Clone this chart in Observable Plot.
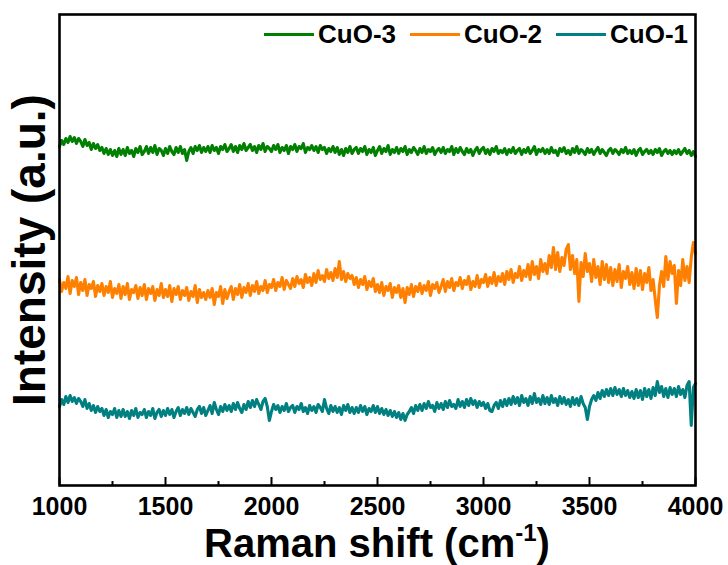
<!DOCTYPE html>
<html>
<head>
<meta charset="utf-8">
<script src="https://cdn.jsdelivr.net/npm/d3@7"></script>
<script src="https://cdn.jsdelivr.net/npm/@observablehq/plot@0.6"></script>
<style>
  html, body { margin: 0; padding: 0; background: #fff; }
  #wrap { position: relative; width: 728px; height: 565px; font-family: "Liberation Sans", Arial, sans-serif; }
  #legend { position: absolute; top: 21px; right: 40px; display: flex; align-items: center; font-weight: bold; font-size: 26px; line-height: 26px; color: #000; }
  #legend .sw { display: inline-block; width: 50px; height: 3px; margin-left: 14px; }
  #legend .sw.first { margin-left: 0; }
  #legend .lb { margin-left: 4px; }
  #xtitle { position: absolute; left: 59px; width: 636px; top: 523px; text-align: center; font-weight: bold; font-size: 40px; color: #000; line-height: 1; white-space: nowrap; }
  #xtitle sup { font-size: 24px; vertical-align: 16px; line-height: 0; }
</style>
</head>
<body>
<div id="wrap"></div>
<script>
// Raman shift sampling (cm^-1)
const shiftStart = 1000;
const shiftStep = 10;
const xTicks = [1000, 1500, 2000, 2500, 3000, 3500, 4000];
const xMinorTicks = [1250, 1750, 2250, 2750, 3250, 3750];
const seriesNames = ["CuO-3", "CuO-2", "CuO-1"];
const seriesColors = ["#008000", "#ff8000", "#008080"];

// Intensity (a.u.), offset-stacked
const cuo3 = [
  339,345,341,347,343,349,344,348,342,347,
  344,339,346,340,343,336,342,337,341,335,
  338,332,337,331,336,330,335,329,337,331,
  336,330,338,332,335,329,337,333,339,331,
  334,339,332,338,333,340,331,337,335,330,
  337,332,339,334,331,338,333,339,332,336,
  325,334,338,332,339,335,340,333,338,334,
  339,333,340,335,338,332,339,336,341,334,
  337,341,334,339,333,340,336,342,335,338,
  341,335,339,333,340,336,342,334,339,337,
  334,340,336,341,333,338,335,340,332,339,
  336,341,334,339,337,342,333,338,336,340,
  335,339,333,340,336,338,332,337,334,339,
  333,338,331,336,330,337,333,339,332,336,
  338,332,337,334,339,331,336,333,338,330,
  335,339,332,337,334,340,331,336,333,338,
  332,337,334,339,331,336,333,338,335,331,
  337,333,339,332,336,334,338,331,335,337,
  333,338,332,336,334,339,331,337,333,338,
  334,331,337,333,336,330,335,338,332,336,
  338,332,336,331,337,334,339,332,335,333,
  337,331,336,333,338,332,335,337,331,336,
  333,338,332,335,339,331,336,334,337,332,
  336,332,338,333,335,330,337,334,338,332,
  335,331,337,333,339,332,336,334,331,337,
  333,336,331,335,338,332,336,333,330,335,
  337,332,336,334,331,336,333,338,332,335,
  332,336,330,335,337,331,334,336,332,335,
  331,336,333,337,330,334,336,332,335,331,
  335,332,336,331,334,337,332,335,330,334,
  329
];
const cuo2 = [
  206,194,203,197,209,192,205,199,208,191,
  203,195,206,190,201,197,204,189,200,194,
  202,190,199,193,204,188,197,192,201,187,
  199,191,202,186,196,193,200,187,198,190,
  201,186,197,192,199,185,196,190,202,188,
  196,189,200,184,197,191,199,186,195,190,
  198,185,194,189,200,183,196,188,193,186,
  195,188,197,181,193,189,199,182,196,187,
  194,199,186,197,191,201,188,198,193,202,
  190,200,194,204,192,199,195,205,193,201,
  198,206,195,203,199,208,196,205,201,197,
  207,199,209,202,206,198,211,203,208,200,
  212,203,215,206,210,204,216,207,213,205,
  217,208,224,206,214,204,212,207,210,201,
  208,198,206,201,209,196,204,199,207,194,
  201,193,203,190,199,195,202,188,198,193,
  200,188,197,183,198,191,201,189,199,194,
  202,192,200,195,204,190,201,197,203,193,
  199,206,194,204,198,207,195,203,200,208,
  197,205,201,209,196,204,199,210,198,206,
  203,211,199,208,202,213,200,209,204,212,
  201,214,206,216,203,212,208,219,205,215,
  209,221,206,224,211,219,207,226,214,222,
  212,230,218,238,216,233,214,228,220,236,
  241,216,230,212,226,184,223,209,232,214,
  222,204,226,208,219,201,224,206,221,203,
  218,200,216,204,221,198,214,207,219,201,
  213,197,217,200,215,196,212,203,218,195,
  206,186,168,200,214,199,229,206,224,212,
  220,182,215,200,226,205,219,203,228,243,
  232
];
const cuo1 = [
  79,86,81,89,83,90,84,88,82,87,
  84,79,86,77,82,75,80,73,79,74,
  77,70,76,68,74,71,77,68,75,69,
  76,69,74,67,75,70,77,68,73,71,
  76,68,74,70,77,67,73,76,69,75,
  70,77,71,76,68,74,78,70,76,72,
  78,71,77,73,69,76,79,72,78,70,
  75,80,72,83,76,71,79,74,81,75,
  80,74,82,76,83,77,73,81,76,84,
  78,85,79,86,81,76,84,87,79,65,
  74,81,76,80,73,79,75,82,74,78,
  80,73,79,76,82,74,78,72,80,75,
  79,73,81,78,74,86,77,72,80,74,
  79,73,78,71,80,75,81,73,78,72,
  78,73,80,74,79,71,77,74,80,73,
  79,72,77,71,76,70,75,69,74,68,
  73,66,72,65,71,74,78,72,80,75,
  81,75,82,77,84,78,80,74,83,77,
  82,76,84,78,85,79,81,77,86,79,
  84,78,86,80,87,81,85,78,84,80,
  83,77,82,75,74,80,83,77,85,79,
  86,80,87,81,89,82,88,80,90,83,
  87,80,89,82,92,83,87,81,90,82,
  88,81,90,83,87,80,89,82,88,81,
  86,79,88,81,87,80,89,82,78,66,
  79,86,90,85,93,87,95,89,96,90,
  97,90,98,91,96,89,97,90,95,88,
  94,87,96,88,95,86,97,89,96,87,
  98,90,104,93,99,89,97,88,98,91,
  97,89,99,91,96,88,100,104,60,98,
  102
];
const yDomain = [0, 471];

const seriesValues = [cuo3, cuo2, cuo1];
const rows = [];
seriesValues.forEach((vals, s) => {
  vals.forEach((v, i) => rows.push({ series: seriesNames[s], shift: shiftStart + i * shiftStep, intensity: v }));
});

const chart = Plot.plot({
  width: 728,
  height: 520,
  marginTop: 14,
  marginBottom: 35,
  marginLeft: 59,
  marginRight: 33,
  style: { fontFamily: "'Liberation Sans', Arial, sans-serif", background: "#fff", overflow: "visible" },
  x: { domain: [1000, 4000] },
  y: { domain: yDomain },
  color: { domain: seriesNames, range: seriesColors },
  marks: [
    Plot.line(rows, { x: "shift", y: "intensity", z: "series", stroke: "series", strokeWidth: 3.1, strokeLinejoin: "round" }),
    Plot.ruleX(xTicks, { x: d => d, y1: 0, y2: 8, stroke: "#000", strokeWidth: 2 }),
    Plot.ruleX(xMinorTicks, { x: d => d, y1: 0, y2: 4, stroke: "#000", strokeWidth: 2 }),
    Plot.axisX({ ticks: xTicks, tickSize: 0, tickPadding: 12, fontSize: 25, fontWeight: "bold", fill: "#000", label: null, tickFormat: d => String(d) }),
    Plot.axisY({ ticks: [], label: null }),
    Plot.text(["Intensity (a.u.)"], { frameAnchor: "left", textAnchor: "middle", rotate: -90, dx: -29, fontSize: 46, fontWeight: "bold", fill: "#000" }),
    Plot.frame({ stroke: "#000", strokeWidth: 2.6 })
  ]
});

const wrap = document.getElementById("wrap");
wrap.appendChild(chart);

const legend = document.createElement("div");
legend.id = "legend";
seriesNames.forEach((name, i) => {
  const sw = document.createElement("span");
  sw.className = i === 0 ? "sw first" : "sw";
  sw.style.background = seriesColors[i];
  const label = document.createElement("span");
  label.className = "lb";
  label.textContent = name;
  legend.appendChild(sw);
  legend.appendChild(label);
});
wrap.appendChild(legend);

const xt = document.createElement("div");
xt.id = "xtitle";
xt.innerHTML = "Raman shift (cm<sup>-1</sup>)";
wrap.appendChild(xt);
</script>
</body>
</html>
